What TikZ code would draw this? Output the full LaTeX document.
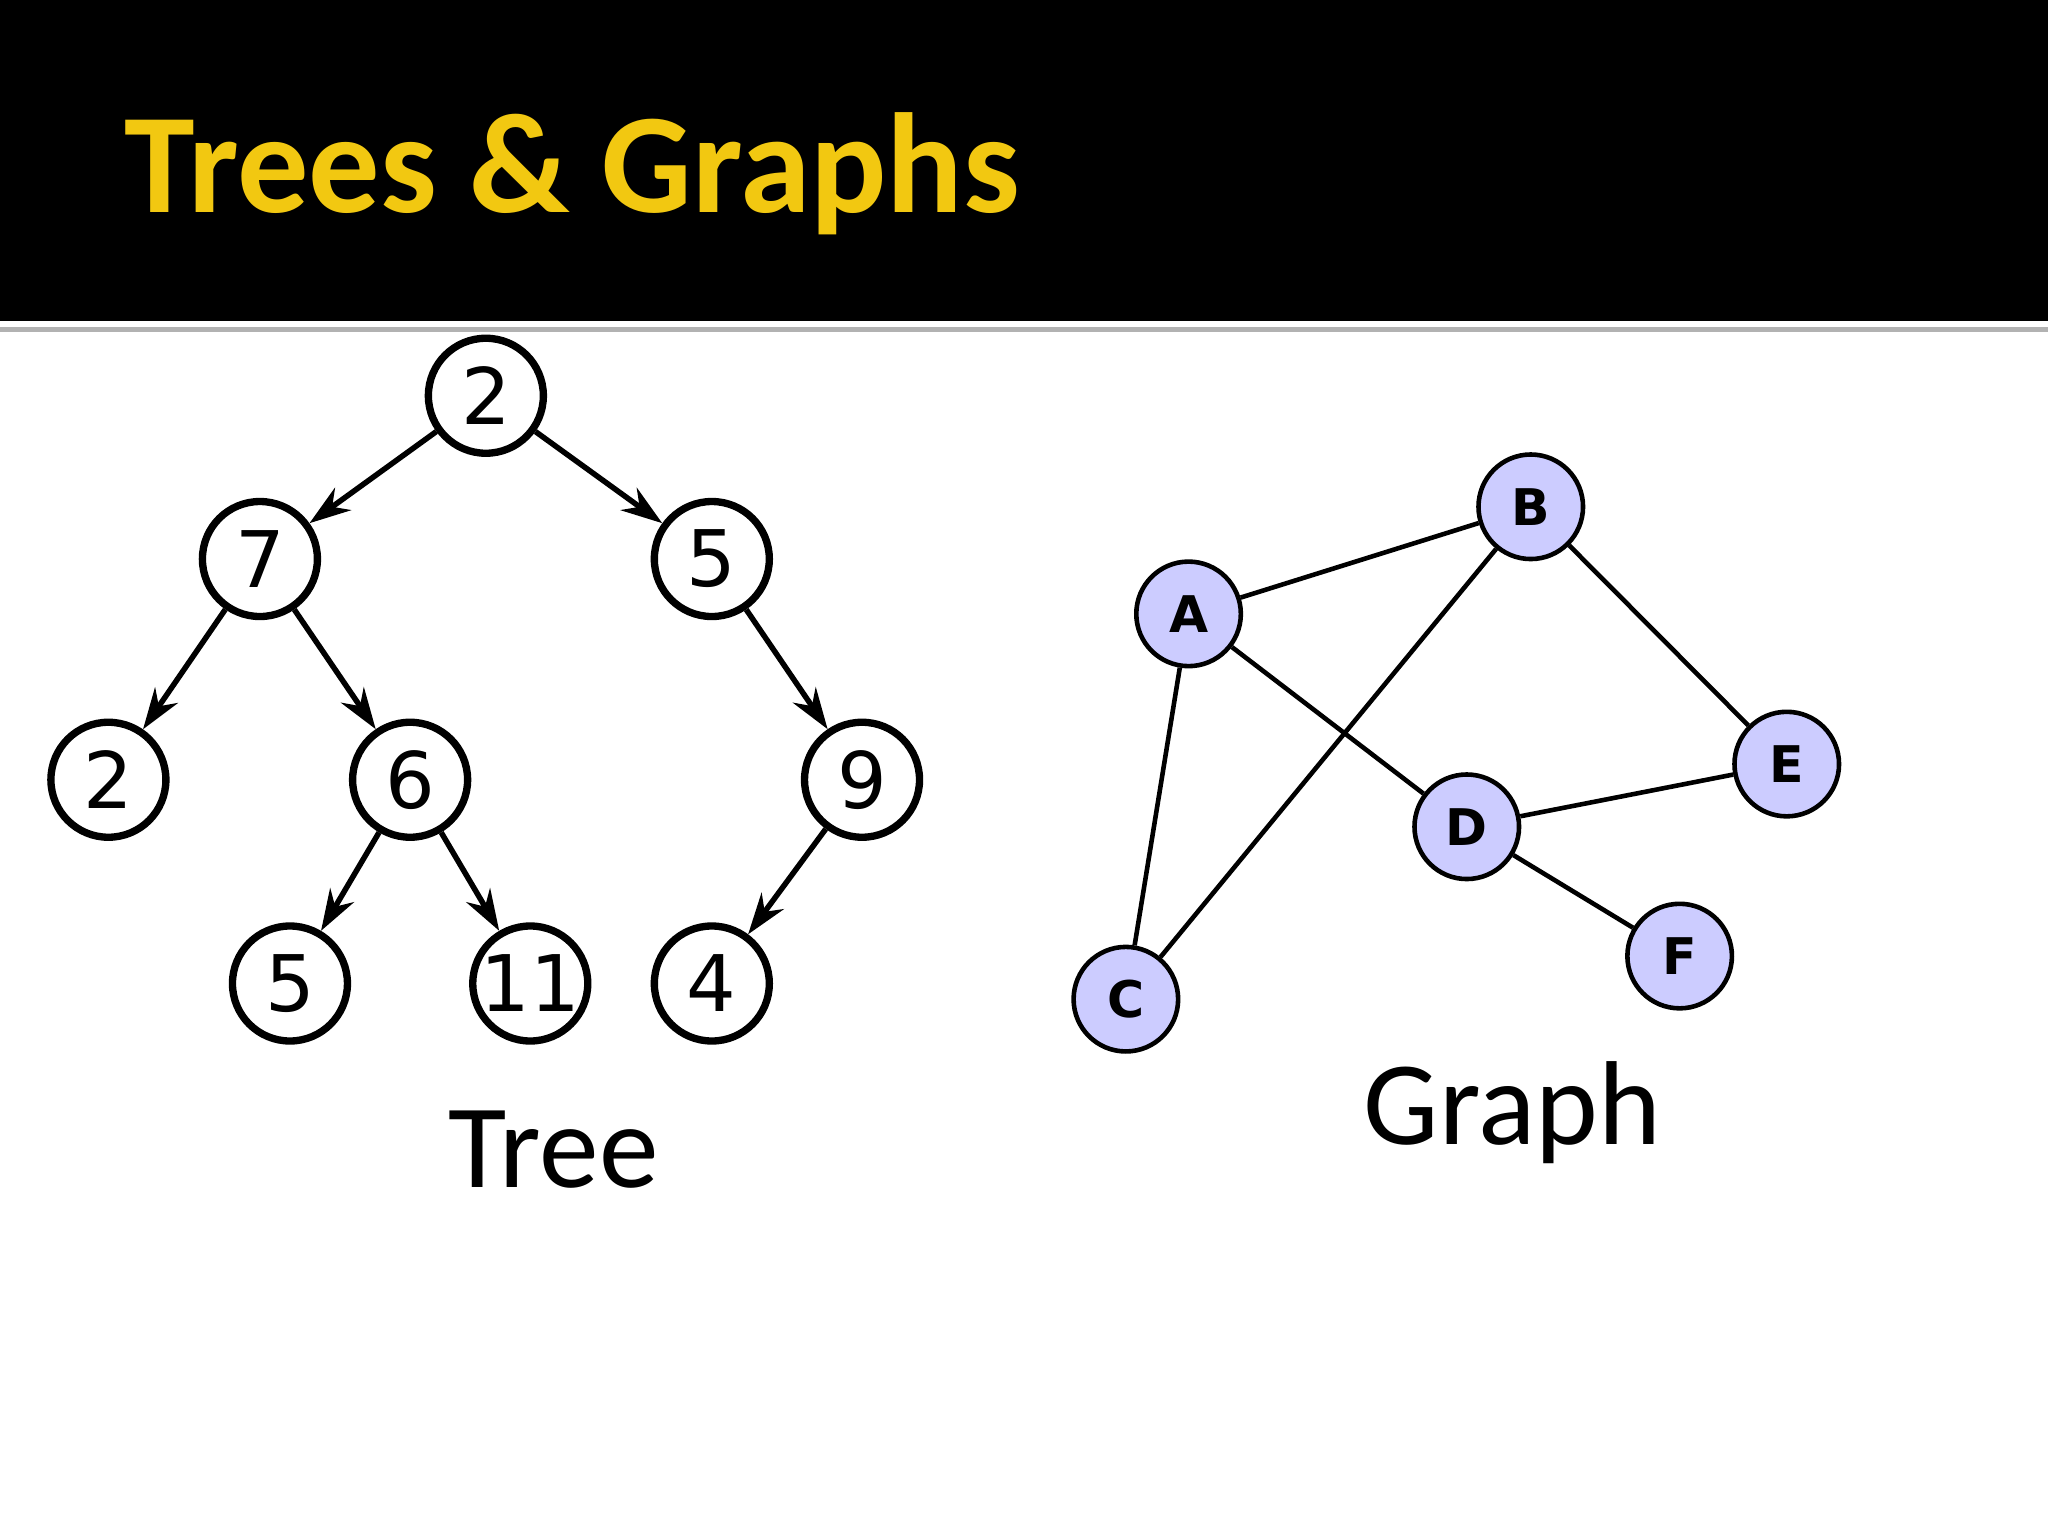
\documentclass[tikz,border=0pt]{standalone}
\usepackage{fontspec}
\setmainfont{Carlito}
\newfontfamily\dvs{DejaVu Sans}
\usetikzlibrary{arrows.meta}
\definecolor{titley}{HTML}{F2C811}
\definecolor{lav}{HTML}{CCCCFF}
\tikzset{
 tn/.style={circle,draw,line width=1.6pt,minimum size=0.88cm,inner sep=0pt,font=\dvs\fontsize{17}{17}\selectfont},
 gn/.style={circle,draw,fill=lav,line width=1pt,minimum size=0.8cm,inner sep=0pt,font=\dvs\bfseries\fontsize{11}{11}\selectfont},
 ta/.style={line width=1.2pt,-{Stealth[length=9pt,width=6pt]}},
 ge/.style={line width=1pt}
}
\begin{document}
\begin{tikzpicture}[x=0.01cm,y=-0.01cm]
\useasboundingbox (0,0) rectangle (1568,1176);
\fill[black] (0,0) rectangle (1568,246);
\fill[gray!60] (0,250) rectangle (1568,254);
\node[anchor=base west,text=titley,inner sep=0pt,font=\bfseries\fontsize{31}{31}\selectfont] (title) at (95,163) {Trees \& Graphs};
% tree
\node[tn] (r) at (372,303) {2};
\node[tn] (a) at (199,428) {7};
\node[tn] (b) at (545,428) {5};
\node[tn] (c) at (83,597) {2};
\node[tn] (d) at (314,597) {6};
\node[tn] (e) at (660,597) {9};
\node[tn] (f) at (222,753) {5};
\node[tn] (g) at (406,753) {11};
\node[tn] (h) at (545,753) {4};
\foreach \u/\v in {r/a,r/b,a/c,a/d,b/e,d/f,d/g,e/h} \draw[ta] (\u) -- (\v);
\node[font=\fontsize{26}{26}\selectfont] (tl) at (424,880) {Tree};
% graph
\node[gn] (B) at (1172,388) {B};
\node[gn] (A) at (910,470) {A};
\node[gn] (E) at (1368,585) {E};
\node[gn] (D) at (1123,633) {D};
\node[gn] (F) at (1286,732) {F};
\node[gn] (C) at (862,765) {C};
\foreach \u/\v in {A/B,A/D,A/C,B/C,B/E,D/E,D/F} \draw[ge] (\u) -- (\v);
\node[font=\fontsize{26}{26}\selectfont] (gl) at (1158,852) {Graph};
\end{tikzpicture}
\end{document}
